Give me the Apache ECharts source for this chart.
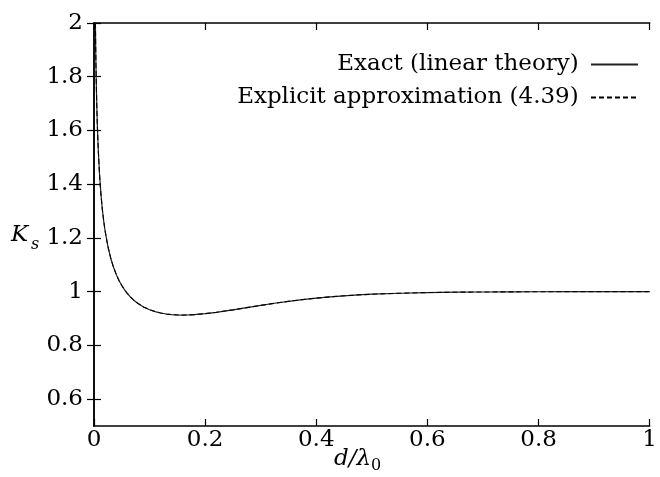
<!DOCTYPE html>
<html>
<head>
<meta charset="utf-8">
<script src="https://cdn.jsdelivr.net/npm/echarts@6/dist/echarts.min.js"></script>
<style>
  html, body { margin: 0; padding: 0; background: #fff; }
  #chart { width: 660px; height: 477px; }
</style>
</head>
<body>
<div id="chart"></div>
<script>
// Relative depth d/λ0
const depthRatio = [0.002, 0.0025, 0.003, 0.0035, 0.004, 0.005, 0.006, 0.0075, 0.01, 0.0125,
  0.015, 0.0175, 0.02, 0.025, 0.03, 0.035, 0.04, 0.045, 0.05, 0.055,
  0.06, 0.065, 0.07, 0.075, 0.08, 0.09, 0.1, 0.11, 0.12, 0.13,
  0.14, 0.15, 0.16, 0.17, 0.18, 0.2, 0.22, 0.25, 0.275, 0.3,
  0.325, 0.35, 0.375, 0.4, 0.425, 0.45, 0.475, 0.5, 0.55, 0.6,
  0.65, 0.7, 0.75, 0.8, 0.85, 0.9, 0.95, 1.0];

// Shoaling coefficient Ks, exact linear theory
const ksExact = [2.1190, 2.0053, 1.9175, 1.8466, 1.7874, 1.6928, 1.6200, 1.5357, 1.4347, 1.3622,
  1.3068, 1.2622, 1.2258, 1.1686, 1.1254, 1.0916, 1.0643, 1.0417, 1.0229, 1.0069,
  0.9932, 0.9814, 0.9713, 0.9624, 0.9547, 0.9422, 0.9327, 0.9257, 0.9205, 0.9169,
  0.9146, 0.9133, 0.9130, 0.9134, 0.9145, 0.9181, 0.9231, 0.9323, 0.9406, 0.9489,
  0.9568, 0.9641, 0.9705, 0.9760, 0.9807, 0.9847, 0.9879, 0.9905, 0.9942, 0.9966,
  0.9980, 0.9988, 0.9993, 0.9996, 0.9998, 0.9999, 0.9999, 1.0000];

// Shoaling coefficient Ks, explicit approximation (4.39)
const ksApprox = [2.1190, 2.0053, 1.9175, 1.8466, 1.7874, 1.6928, 1.6200, 1.5357, 1.4347, 1.3622,
  1.3068, 1.2622, 1.2258, 1.1686, 1.1254, 1.0916, 1.0643, 1.0417, 1.0229, 1.0069,
  0.9932, 0.9814, 0.9713, 0.9624, 0.9547, 0.9422, 0.9327, 0.9257, 0.9205, 0.9169,
  0.9146, 0.9133, 0.9130, 0.9134, 0.9145, 0.9181, 0.9231, 0.9323, 0.9406, 0.9489,
  0.9568, 0.9641, 0.9705, 0.9760, 0.9807, 0.9847, 0.9879, 0.9905, 0.9942, 0.9966,
  0.9980, 0.9988, 0.9993, 0.9996, 0.9998, 0.9999, 0.9999, 1.0000];

const yTicks = [0.6, 0.8, 1, 1.2, 1.4, 1.6, 1.8, 2];
const seriesNames = ['Exact (linear theory)', 'Explicit approximation (4.39)'];

const FONT = 'DejaVu Serif';
const FS = 23;

const pairs = (xs, ys) => xs.map((x, i) => [x, ys[i]]);

const axisLine = { show: true, lineStyle: { color: '#000', width: 1.5 } };
const tickStyle = { inside: true, length: 7, lineStyle: { color: '#000', width: 1.2 } };

const chart = echarts.init(document.getElementById('chart'), null, { renderer: 'canvas' });

chart.setOption({
  animation: false,
  backgroundColor: '#fff',
  color: ['#000', '#000'],
  grid: { left: 94, right: 4, top: 23, bottom: 51 },
  legend: {
    orient: 'vertical',
    right: 16,
    top: 48,
    align: 'right',
    itemWidth: 47,
    itemHeight: 12,
    itemGap: 10,
    itemStyle: { opacity: 0 },
    formatter: (name) => name + ' ',
    textStyle: { fontFamily: FONT, fontSize: FS, color: '#000' },
    data: seriesNames
  },
  xAxis: [
    {
      type: 'value', min: 0, max: 1, interval: 0.2, position: 'bottom',
      axisLine, axisTick: tickStyle, splitLine: { show: false },
      axisLabel: { margin: 3, fontFamily: FONT, fontSize: FS, color: '#000' }
    },
    {
      type: 'value', min: 0, max: 1, interval: 0.2, position: 'top',
      axisLine, axisTick: tickStyle, splitLine: { show: false },
      axisLabel: { show: false }
    }
  ],
  yAxis: [
    {
      type: 'value', min: 0.5, max: 2, position: 'left',
      axisLine, splitLine: { show: false },
      axisTick: Object.assign({ customValues: yTicks }, tickStyle),
      axisLabel: { customValues: yTicks, margin: 11, fontFamily: FONT, fontSize: FS, color: '#000' }
    },
    {
      type: 'value', min: 0.5, max: 2, position: 'right',
      axisLine, splitLine: { show: false },
      axisTick: Object.assign({ customValues: yTicks }, tickStyle),
      axisLabel: { show: false }
    }
  ],
  series: [
    {
      name: seriesNames[0], type: 'line', data: pairs(depthRatio, ksExact),
      showSymbol: false, symbol: 'none', clip: true,
      itemStyle: { color: '#000' },
      lineStyle: { color: '#222', width: 1.2, type: 'solid' }
    },
    {
      name: seriesNames[1], type: 'line', data: pairs(depthRatio, ksApprox),
      showSymbol: false, symbol: 'none', clip: true,
      itemStyle: { color: '#000' },
      lineStyle: { color: '#000', width: 1.1, type: [5, 3] }
    }
  ],
  graphic: [
    {
      type: 'text', left: 11, top: 224,
      style: { text: 'K', fontFamily: FONT, fontStyle: 'italic', fontSize: FS, fill: '#000' }
    },
    {
      type: 'text', left: 31, top: 237,
      style: { text: 's', fontFamily: FONT, fontStyle: 'italic', fontSize: 16, fill: '#000' }
    },
    {
      type: 'text', left: 334, top: 448,
      style: { text: 'd/λ', fontFamily: FONT, fontStyle: 'italic', fontSize: FS, fill: '#000' }
    },
    {
      type: 'text', left: 371, top: 458,
      style: { text: '0', fontFamily: FONT, fontSize: 16, fill: '#000' }
    }
  ]
});
</script>
</body>
</html>
